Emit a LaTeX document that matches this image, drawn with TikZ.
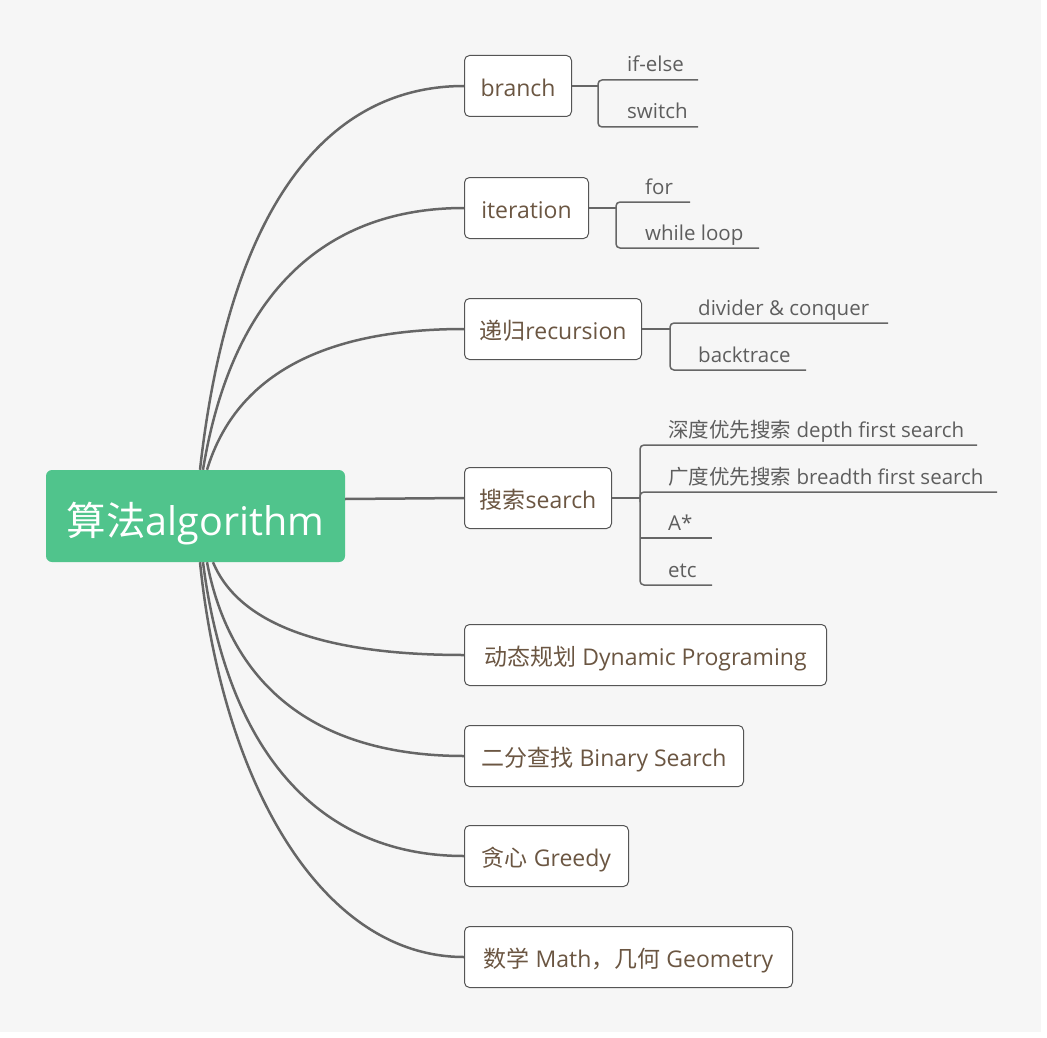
\documentclass[tikz,border=0pt]{standalone}
\usepackage{fontspec}
\setmainfont{Open Sans}
\newfontfamily\cjk{Noto Sans CJK SC}
\usetikzlibrary{calc}
\definecolor{bgray}{HTML}{F6F6F6}
\definecolor{rootgreen}{HTML}{50C48C}
\definecolor{boxtext}{HTML}{6B5642}
\definecolor{subtext}{HTML}{5E5E5E}
\definecolor{linegray}{HTML}{666666}
\definecolor{boxborder}{HTML}{555555}
\begin{document}
\begin{tikzpicture}[x=1pt,y=-1pt,
 rootbox/.style={fill=rootgreen, rounded corners=6pt, minimum width=299pt, minimum height=92pt, text=white, font=\fontsize{39.5}{44}\selectfont, inner sep=0pt, text height=38pt, text depth=0pt},
 childbox/.style={draw=boxborder, line width=1pt, fill=white, rounded corners=5pt, minimum height=61pt, anchor=west, text=boxtext, font=\fontsize{23}{26}\selectfont, inner xsep=12pt, inner ysep=0pt, text height=21pt, text depth=0pt},
 subitem/.style={anchor=base west, text=subtext, font=\fontsize{20.5}{24}\selectfont, inner sep=0pt},
 mainline/.style={draw=linegray, line width=2.5pt},
 subline/.style={draw=linegray, line width=1.5pt, rounded corners=4pt},
 straightline/.style={draw=linegray, line width=1.5pt},
]
\fill[white] (0,0) rectangle (1047,1038);
\fill[bgray] (0,0) rectangle (1041,1032);
\useasboundingbox (0,0) rectangle (1047,1038);

% root
\node[rootbox] (root) at (195.5,516) {{\cjk 算法}algorithm};

% children
\node[childbox, minimum width=107pt] (c1) at (464,86) {branch};
\node[childbox, minimum width=124pt] (c2) at (464,208) {iteration};
\node[childbox, minimum width=177pt] (c3) at (464,329) {{\cjk 递归}recursion};
\node[childbox, minimum width=147pt] (c4) at (464,498) {{\cjk 搜索}search};
\node[childbox, minimum width=362pt] (c5) at (464,655) {{\cjk 动态规划} Dynamic Programing};
\node[childbox, minimum width=279pt] (c6) at (464,756) {{\cjk 二分查找} Binary Search};
\node[childbox, minimum width=164pt] (c7) at (464,856) {{\cjk 贪心} Greedy};
\node[childbox, minimum width=328pt] (c8) at (464,957) {{\cjk 数学} Math{\cjk ，几何} Geometry};

% main connectors
\draw[mainline] ($(root.north)+(4.5,0)$) .. controls (230,201) and (330,86) .. (c1.west);
\draw[mainline] ($(root.north)+(7.5,0)$) .. controls (233,287) and (330,208) .. (c2.west);
\draw[mainline] ($(root.north)+(11.5,0)$) .. controls (237,371) and (330,329) .. (c3.west);
\draw[mainline] ($(root.east)+(0,-17)$) -- (c4.west);
\draw[mainline] ($(root.south)+(17.5,0)$) .. controls (240,627) and (330,655) .. (c5.west);
\draw[mainline] ($(root.south)+(11.5,0)$) .. controls (233,698) and (330,756) .. (c6.west);
\draw[mainline] ($(root.south)+(7.5,0)$) .. controls (228,760) and (325,856) .. (c7.west);
\draw[mainline] ($(root.south)+(4.5,0)$) .. controls (222,780) and (320,957) .. (c8.west);

% branch group
\node[subitem] (s11) at (627,72) {if-else};
\node[subitem] (s12) at (627,119) {switch};
\coordinate (v1) at (598,86);
\draw[straightline] (c1.east) -- (v1);
\draw[subline] (698,80) -- (598,80) -- (598,127) -- (698,127);

% iteration group
\node[subitem] (s21) at (645,194) {for};
\node[subitem] (s22) at (645,240) {while loop};
\coordinate (v2) at (616,208);
\draw[straightline] (c2.east) -- (v2);
\draw[subline] (690,202) -- (616,202) -- (616,248) -- (759,248);

% recursion group
\node[subitem] (s31) at (698,315) {divider \& conquer};
\node[subitem] (s32) at (698,362) {backtrace};
\coordinate (v3) at (670,329);
\draw[straightline] (c3.east) -- (v3);
\draw[subline] (888,323) -- (670,323) -- (670,370) -- (806,370);

% search group
\node[subitem] (s41) at (668,437) {{\cjk 深度优先搜索} depth first search};
\node[subitem] (s42) at (668,484) {{\cjk 广度优先搜索} breadth first search};
\node[subitem] (s43) at (668,530) {A*};
\node[subitem] (s44) at (668,577) {etc};
\coordinate (v4) at (640,498);
\draw[straightline] (c4.east) -- (v4);
\draw[subline] (977,445) -- (640,445) -- (640,585) -- (712,585);
\draw[subline] (640,502) -- (640,492) -- (997,492);
\draw[straightline] (640,538) -- (712,538);
\end{tikzpicture}
\end{document}
